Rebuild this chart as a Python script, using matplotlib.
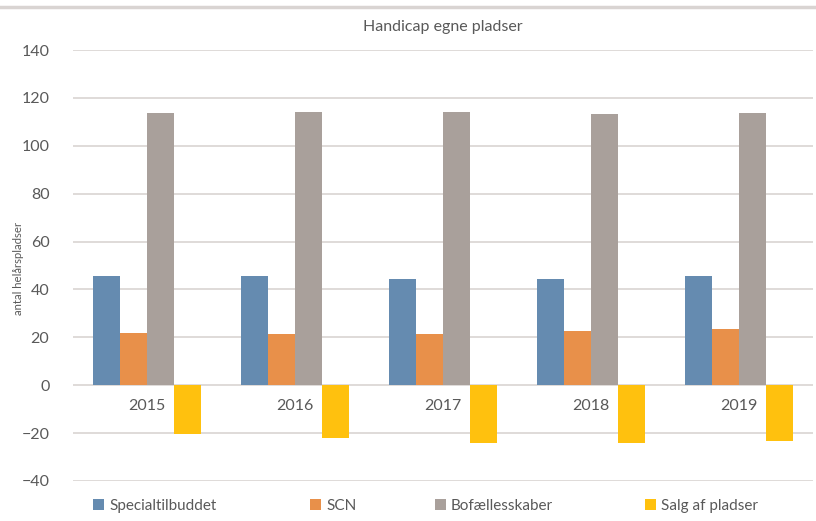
import matplotlib
matplotlib.use("Agg")
import matplotlib.pyplot as plt
from matplotlib.patches import Patch
import numpy as np

plt.rcParams['font.family'] = ['Lato', 'DejaVu Sans']

years = ["2015", "2016", "2017", "2018", "2019"]
series_names = ["Specialtilbuddet", "SCN", "Bofællesskaber", "Salg af pladser"]
specialtilbuddet = [45.7, 45.7, 44.3, 44.3, 45.7]
scn = [22.0, 21.3, 21.3, 22.6, 23.3]
bofaellesskaber = [113.6, 114.3, 114.3, 113.1, 113.6]
salg_af_pladser = [-20.2, -22.0, -24.0, -24.0, -23.4]
yticks = [-40, -20, 0, 20, 40, 60, 80, 100, 120, 140]

colors = ["#658BB0", "#E8904A", "#A9A09B", "#FFC10E"]
series = [specialtilbuddet, scn, bofaellesskaber, salg_af_pladser]

fig = plt.figure(figsize=(8.16, 5.21), dpi=100)
ax = fig.add_axes([73/816, 1-481/521, 740/816, 431/521])

x = np.arange(len(years))
w = 27/148
for i, (vals, c) in enumerate(zip(series, colors)):
    ax.bar(x + (i-1.5)*w, vals, width=w, color=c, zorder=3)

ax.set_xlim(-0.5, len(years)-0.5)
ax.set_ylim(-40, 140)
ax.set_yticks(yticks)
ax.grid(axis='y', color='#D9D4D2', linewidth=1.2, zorder=0)
for s in ax.spines.values():
    s.set_visible(False)
ax.spines['bottom'].set_position(('data', 0))
ax.set_xticks(x)
ax.set_xticklabels(years)
ax.tick_params(axis='x', length=0, pad=10, labelsize=11.5, labelcolor='#595959')
ax.tick_params(axis='y', length=0, pad=17, labelsize=11.5, labelcolor='#595959')

fig.text(19/816, 1-268/521, "antal helårspladser", rotation=90, ha='center', va='center',
         fontsize=8.2, color='#595959')

fig.text(443/816, 1-27/521, "Handicap egne pladser", ha='center', va='center',
         fontsize=11.5, color='#595959')

# top separator line
fig.add_artist(plt.Line2D([0, 1], [1-7/521, 1-7/521], color='#D9D4D2', linewidth=2.5,
                          transform=fig.transFigure))

legend_x = [93, 310, 435, 645]
for name, c, lx in zip(series_names, colors, legend_x):
    leg = fig.legend([Patch(facecolor=c, edgecolor='none')], [name], loc='center left',
                     bbox_to_anchor=(lx/816, 1-506/521), frameon=False, fontsize=11,
                     handlelength=0.75, handleheight=0.75, handletextpad=0.3,
                     borderpad=0, borderaxespad=0, labelcolor='#595959')

fig.savefig("out.png", dpi=100)
